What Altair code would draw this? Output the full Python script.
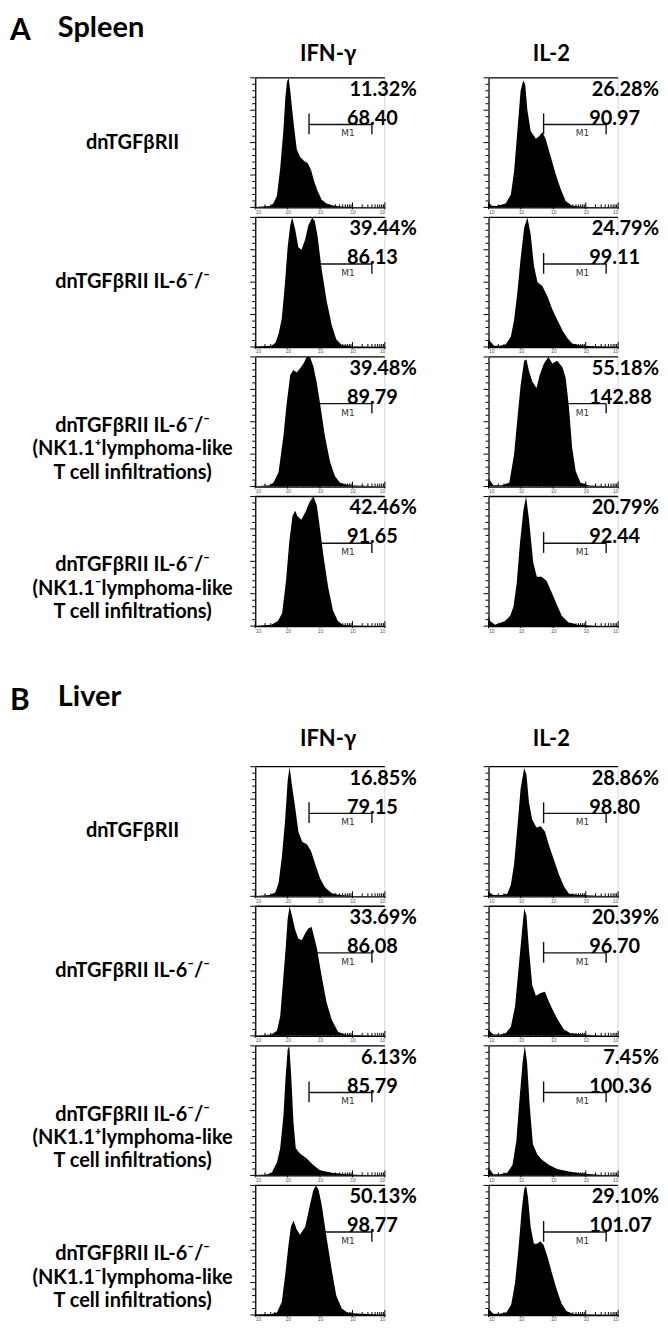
import math
import altair as alt
import pandas as pd

# ---------------- data ----------------
markers = ["IFN-γ", "IL-2"]
section_letters = ["A", "B"]
section_names = ["Spleen", "Liver"]
row_labels = [
    ["dnTGFβRII"],
    ["dnTGFβRII IL-6⁻/⁻"],
    ["dnTGFβRII IL-6⁻/⁻", "(NK1.1⁺lymphoma-like", "T cell infiltrations)"],
    ["dnTGFβRII IL-6⁻/⁻", "(NK1.1⁻lymphoma-like", "T cell infiltrations)"],
]

spleen_ifn_pct = [11.32, 39.44, 39.48, 42.46]
spleen_ifn_mean = [68.40, 86.13, 89.79, 91.65]
spleen_il2_pct = [26.28, 24.79, 55.18, 20.79]
spleen_il2_mean = [90.97, 99.11, 142.88, 92.44]
liver_ifn_pct = [16.85, 33.69, 6.13, 50.13]
liver_ifn_mean = [79.15, 86.08, 85.79, 98.77]
liver_il2_pct = [28.86, 20.39, 7.45, 29.10]
liver_il2_mean = [98.80, 96.70, 100.36, 101.07]

gate_ifn = [1.66, 3.60]
gate_il2 = [1.70, 3.63]
gate_level = 0.64

# histogram outlines: x in log decades (10^0..10^4), y relative count
a_ifn1_x = [0, 0.45, 0.56, 0.67, 0.77, 0.87, 0.93, 0.98, 1.03, 1.08, 1.18, 1.28, 1.38, 1.5, 1.62, 1.72, 1.82, 1.92, 2.05, 2.2, 2.4, 2.7, 3.2, 4]
a_ifn1_y = [0.004, 0.01, 0.03, 0.09, 0.3, 0.6, 0.85, 0.97, 1.0, 0.9, 0.66, 0.45, 0.39, 0.36, 0.34, 0.29, 0.2, 0.13, 0.06, 0.03, 0.015, 0.006, 0.002, 0]
a_ifn2_x = [0, 0.5, 0.62, 0.72, 0.82, 0.92, 1.0, 1.08, 1.14, 1.23, 1.33, 1.43, 1.54, 1.64, 1.76, 1.84, 1.92, 2.05, 2.2, 2.36, 2.5, 2.67, 3.0, 4]
a_ifn2_y = [0.003, 0.01, 0.03, 0.1, 0.22, 0.5, 0.77, 0.94, 1.0, 0.91, 0.77, 0.75, 0.83, 0.94, 1.0, 0.97, 0.86, 0.6, 0.36, 0.17, 0.06, 0.015, 0.004, 0]
a_ifn3_x = [0, 0.45, 0.56, 0.72, 0.87, 0.97, 1.08, 1.18, 1.28, 1.38, 1.49, 1.59, 1.69, 1.79, 1.9, 2.0, 2.15, 2.31, 2.46, 2.62, 2.87, 4]
a_ifn3_y = [0.003, 0.01, 0.03, 0.11, 0.39, 0.64, 0.86, 0.9, 0.88, 0.91, 0.95, 1.0, 1.0, 0.93, 0.8, 0.64, 0.39, 0.19, 0.08, 0.03, 0.01, 0]
a_ifn4_x = [0, 0.5, 0.7, 0.83, 0.95, 1.05, 1.15, 1.23, 1.3, 1.42, 1.55, 1.68, 1.8, 1.9, 2.0, 2.1, 2.25, 2.4, 2.55, 2.7, 3.0, 4]
a_ifn4_y = [0.003, 0.01, 0.04, 0.1, 0.35, 0.65, 0.85, 0.89, 0.85, 0.82, 0.88, 0.96, 1.0, 0.93, 0.75, 0.55, 0.3, 0.12, 0.04, 0.01, 0.004, 0]

a_il21_x = [0, 0.03, 0.1, 0.25, 0.53, 0.69, 0.79, 0.89, 0.99, 1.07, 1.13, 1.2, 1.3, 1.46, 1.56, 1.66, 1.76, 1.92, 2.07, 2.23, 2.38, 2.58, 2.9, 3.5, 4]
a_il21_y = [0.04, 0.03, 0.012, 0.01, 0.03, 0.1, 0.28, 0.59, 0.9, 0.98, 0.95, 0.75, 0.59, 0.53, 0.55, 0.58, 0.53, 0.39, 0.26, 0.14, 0.05, 0.013, 0.005, 0.002, 0]
a_il22_x = [0, 0.03, 0.17, 0.35, 0.53, 0.69, 0.79, 0.89, 0.99, 1.1, 1.2, 1.3, 1.4, 1.51, 1.66, 1.82, 1.97, 2.12, 2.28, 2.43, 2.58, 2.9, 3.5, 4]
a_il22_y = [0.07, 0.05, 0.01, 0.01, 0.02, 0.08, 0.21, 0.42, 0.68, 0.92, 1.0, 0.87, 0.63, 0.5, 0.47, 0.39, 0.29, 0.21, 0.13, 0.07, 0.026, 0.01, 0.003, 0]
a_il23_x = [0, 0.03, 0.15, 0.4, 0.64, 0.79, 0.89, 0.99, 1.1, 1.17, 1.25, 1.35, 1.48, 1.58, 1.71, 1.85, 1.97, 2.12, 2.28, 2.38, 2.48, 2.58, 2.69, 2.84, 3.1, 4]
a_il23_y = [0.07, 0.05, 0.01, 0.01, 0.03, 0.25, 0.52, 0.78, 0.97, 0.98, 0.89, 0.81, 0.76, 0.86, 0.95, 1.0, 0.95, 0.97, 0.92, 0.84, 0.62, 0.3, 0.12, 0.03, 0.008, 0]
a_il24_x = [0, 0.05, 0.2, 0.51, 0.67, 0.77, 0.87, 0.97, 1.08, 1.16, 1.25, 1.38, 1.49, 1.64, 1.79, 1.95, 2.1, 2.26, 2.46, 2.75, 3.3, 4]
a_il24_y = [0.08, 0.04, 0.01, 0.04, 0.08, 0.15, 0.33, 0.64, 0.9, 1.0, 0.82, 0.49, 0.38, 0.38, 0.35, 0.26, 0.17, 0.08, 0.03, 0.01, 0.003, 0]

b_ifn1_x = [0, 0.45, 0.62, 0.72, 0.82, 0.92, 1.0, 1.06, 1.13, 1.23, 1.33, 1.45, 1.6, 1.72, 1.85, 2.0, 2.15, 2.35, 2.6, 3.0, 4]
b_ifn1_y = [0.003, 0.01, 0.03, 0.1, 0.3, 0.58, 0.89, 1.0, 0.86, 0.69, 0.5, 0.42, 0.4, 0.35, 0.25, 0.14, 0.07, 0.025, 0.01, 0.003, 0]
b_ifn2_x = [0, 0.5, 0.67, 0.77, 0.87, 0.94, 1.0, 1.06, 1.13, 1.23, 1.33, 1.44, 1.54, 1.64, 1.74, 1.9, 2.05, 2.2, 2.36, 2.56, 2.8, 4]
b_ifn2_y = [0.003, 0.01, 0.04, 0.15, 0.46, 0.68, 0.9, 1.0, 0.93, 0.82, 0.75, 0.74, 0.79, 0.83, 0.84, 0.68, 0.46, 0.26, 0.125, 0.03, 0.008, 0]
b_ifn3_x = [0, 0.35, 0.51, 0.67, 0.77, 0.87, 0.94, 1.0, 1.05, 1.11, 1.18, 1.25, 1.38, 1.59, 1.79, 2.0, 2.36, 2.8, 3.3, 4]
b_ifn3_y = [0.003, 0.008, 0.02, 0.1, 0.21, 0.46, 0.77, 0.97, 1.0, 0.77, 0.41, 0.21, 0.17, 0.13, 0.08, 0.04, 0.02, 0.01, 0.004, 0]
b_ifn4_x = [0, 0.5, 0.67, 0.82, 0.92, 1.03, 1.1, 1.18, 1.28, 1.38, 1.54, 1.69, 1.79, 1.87, 1.95, 2.05, 2.2, 2.36, 2.5, 2.67, 2.87, 4]
b_ifn4_y = [0.003, 0.008, 0.02, 0.1, 0.3, 0.55, 0.68, 0.73, 0.66, 0.62, 0.68, 0.85, 0.96, 1.0, 0.97, 0.85, 0.6, 0.35, 0.15, 0.05, 0.015, 0]

b_il21_x = [0, 0.03, 0.15, 0.4, 0.58, 0.69, 0.79, 0.89, 0.99, 1.1, 1.17, 1.25, 1.35, 1.48, 1.61, 1.74, 1.87, 2.02, 2.17, 2.33, 2.48, 2.8, 3.6, 4]
b_il21_y = [0.04, 0.03, 0.01, 0.01, 0.02, 0.09, 0.25, 0.53, 0.83, 0.99, 0.94, 0.72, 0.59, 0.53, 0.54, 0.5, 0.39, 0.28, 0.17, 0.075, 0.02, 0.01, 0.003, 0]
b_il22_x = [0, 0.03, 0.15, 0.35, 0.53, 0.69, 0.82, 0.92, 1.03, 1.1, 1.17, 1.25, 1.35, 1.46, 1.61, 1.74, 1.87, 2.02, 2.17, 2.33, 2.53, 2.9, 3.5, 4]
b_il22_y = [0.05, 0.04, 0.01, 0.01, 0.02, 0.07, 0.23, 0.5, 0.8, 0.98, 0.93, 0.66, 0.39, 0.31, 0.33, 0.34, 0.26, 0.18, 0.11, 0.05, 0.02, 0.01, 0.003, 0]
b_il23_x = [0, 0.03, 0.15, 0.35, 0.58, 0.74, 0.86, 0.96, 1.05, 1.12, 1.19, 1.27, 1.37, 1.51, 1.66, 1.87, 2.12, 2.48, 2.89, 3.5, 4]
b_il23_y = [0.07, 0.05, 0.01, 0.01, 0.02, 0.08, 0.27, 0.6, 0.87, 1.0, 0.87, 0.54, 0.24, 0.16, 0.12, 0.08, 0.05, 0.03, 0.015, 0.004, 0]
b_il24_x = [0, 0.03, 0.15, 0.35, 0.55, 0.7, 0.82, 0.92, 1.02, 1.1, 1.16, 1.22, 1.3, 1.4, 1.5, 1.6, 1.7, 1.82, 1.95, 2.1, 2.25, 2.4, 2.6, 3.0, 4]
b_il24_y = [0.05, 0.04, 0.01, 0.01, 0.02, 0.08, 0.25, 0.5, 0.8, 0.97, 1.0, 0.9, 0.68, 0.55, 0.55, 0.57, 0.54, 0.45, 0.33, 0.2, 0.09, 0.03, 0.01, 0.003, 0]

decade_ticks = [0, 1, 2, 3, 4]
minor_ticks = [round(d + math.log10(k), 4) for d in range(4) for k in range(2, 10)]
y_major_ticks = [0, 0.25, 0.5, 0.75, 1.0]
y_minor_ticks = [i / 20 for i in range(21) if i % 5]

# ---------------- styling / layout ----------------
FONT = "Lato, DejaVu Sans, sans-serif"
W = H = 130
LABEL_W = 143          # label column; column spacing GAP brings the IFN panel to x=247
GAP = 104
XS = alt.Scale(domain=[0, 4], nice=False, zero=False)
YS = alt.Scale(domain=[0, 1], nice=False, zero=False)
XAX = alt.Axis(values=decade_ticks, ticks=False, grid=False, title=None,
               domainColor="black", domainWidth=1.3, labelFontSize=5,
               labelColor="#555", labelPadding=2, labelExpr="'10'")
YAX = alt.Axis(values=[0, 1], ticks=False, labels=False, grid=False, title=None,
               domainColor="black", domainWidth=1.3)


def X(f="x"):
    return alt.X(f"{f}:Q", scale=XS, axis=XAX)


def Y(f="y"):
    return alt.Y(f"{f}:Q", scale=YS, axis=YAX)


def panel(hx, hy, pct, mean, gate, pct_right, mean_left):
    hist = alt.Chart(pd.DataFrame({"x": hx, "y": hy})).mark_area(
        color="black", interpolate="linear").encode(x=X(), y=Y())
    bmaj = alt.Chart(pd.DataFrame({"x": decade_ticks})).mark_rule(
        color="black", strokeWidth=1).encode(x=X(), y=alt.value(H + 2), y2=alt.value(H - 5))
    bmin = alt.Chart(pd.DataFrame({"x": minor_ticks})).mark_rule(
        color="black", strokeWidth=1).encode(x=X(), y=alt.value(H), y2=alt.value(H - 3))
    lmaj = alt.Chart(pd.DataFrame({"y": y_major_ticks})).mark_rule(
        color="black", strokeWidth=1).encode(y=Y(), x=alt.value(-5), x2=alt.value(0))
    lmin = alt.Chart(pd.DataFrame({"y": y_minor_ticks})).mark_rule(
        color="black", strokeWidth=1).encode(y=Y(), x=alt.value(-3), x2=alt.value(0))
    top = alt.Chart(pd.DataFrame({"d": [0]})).mark_rule(
        color="black", strokeWidth=1.3).encode(x=alt.value(0), x2=alt.value(W), y=alt.value(0))
    right = alt.Chart(pd.DataFrame({"d": [0]})).mark_rule(
        color="#d6d6d6", strokeWidth=1).encode(x=alt.value(W), y=alt.value(0), y2=alt.value(H))
    gdf = pd.DataFrame({"x": [gate[0]], "x2": [gate[1]], "y": [gate_level]})
    gline = alt.Chart(gdf).mark_rule(color="#111", strokeWidth=1.4).encode(
        x=X(), x2=alt.X2("x2:Q"), y=Y())
    gl = alt.Chart(pd.DataFrame({"x": [gate[0]], "y": [gate_level + 0.085], "y2": [gate_level - 0.075]})
                   ).mark_rule(color="#111", strokeWidth=1.4).encode(x=X(), y=Y(), y2=alt.Y2("y2:Q"))
    gr = alt.Chart(pd.DataFrame({"x": [gate[1]], "y": [gate_level], "y2": [gate_level - 0.075]})
                   ).mark_rule(color="#111", strokeWidth=1.4).encode(x=X(), y=Y(), y2=alt.Y2("y2:Q"))
    m1 = alt.Chart(pd.DataFrame({"x": [gate[0] + 0.62 * (gate[1] - gate[0])], "y": [gate_level], "t": ["M1"]})
                   ).mark_text(font="DejaVu Sans", fontSize=9, color="#333", dy=12,
                               baseline="alphabetic").encode(x=X(), y=Y(), text="t:N")
    ptxt = alt.Chart(pd.DataFrame({"t": [f"{pct:.2f}%"]})).mark_text(
        font=FONT, fontWeight="bold", fontSize=20, align="right", baseline="alphabetic",
        color="black").encode(x=alt.value(pct_right), y=alt.value(18), text="t:N")
    mtxt = alt.Chart(pd.DataFrame({"t": [f"{mean:.2f}"]})).mark_text(
        font=FONT, fontWeight="bold", fontSize=20, align="left", baseline="alphabetic",
        color="black").encode(x=alt.value(mean_left), y=alt.value(47), text="t:N")
    return alt.layer(right, gline, gl, gr, m1, hist, bmaj, bmin, lmaj, lmin, top, ptxt, mtxt
                     ).properties(width=W, height=H)


def txt(s, x, y, size, align="left"):
    return alt.Chart(pd.DataFrame({"t": [s]})).mark_text(
        font=FONT, fontWeight="bold", fontSize=size, align=align, baseline="alphabetic",
        color="black").encode(text="t:N", x=alt.value(x), y=alt.value(y))


def label_chart(lines):
    off = 0 if len(lines) == 1 else 4
    return alt.Chart(pd.DataFrame({"t": ["\n".join(lines)]})).mark_text(
        font=FONT, fontWeight="bold", fontSize=20, lineHeight=23.5, lineBreak="\n",
        align="center", baseline="middle", color="black"
    ).encode(text="t:N", x=alt.value(124), y=alt.value(H / 2 + off)).properties(width=LABEL_W, height=H)


sections = [
    dict(letter=section_letters[0], name=section_names[0], h=57, yl=29, yn=26, yh=50,
         ifn=[(a_ifn1_x, a_ifn1_y), (a_ifn2_x, a_ifn2_y), (a_ifn3_x, a_ifn3_y), (a_ifn4_x, a_ifn4_y)],
         il2=[(a_il21_x, a_il21_y), (a_il22_x, a_il22_y), (a_il23_x, a_il23_y), (a_il24_x, a_il24_y)],
         ifn_pct=spleen_ifn_pct, ifn_mean=spleen_ifn_mean,
         il2_pct=spleen_il2_pct, il2_mean=spleen_il2_mean),
    dict(letter=section_letters[1], name=section_names[1], h=121, yl=74, yn=70, yh=110,
         ifn=[(b_ifn1_x, b_ifn1_y), (b_ifn2_x, b_ifn2_y), (b_ifn3_x, b_ifn3_y), (b_ifn4_x, b_ifn4_y)],
         il2=[(b_il21_x, b_il21_y), (b_il22_x, b_il22_y), (b_il23_x, b_il23_y), (b_il24_x, b_il24_y)],
         ifn_pct=liver_ifn_pct, ifn_mean=liver_ifn_mean,
         il2_pct=liver_il2_pct, il2_mean=liver_il2_mean),
]

cells = []
for s in sections:
    cells.append(alt.layer(txt(s["letter"], 1, s["yl"], 30), txt(s["name"], 49, s["yn"], 29)
                           ).properties(width=LABEL_W, height=s["h"]))
    cells.append(txt(markers[0], W / 2 + 8, s["yh"], 22, "center").properties(width=W, height=s["h"]))
    cells.append(txt(markers[1], W / 2 - 2, s["yh"], 22, "center").properties(width=W, height=s["h"]))
    for i in range(4):
        cells.append(label_chart(row_labels[i]))
        cells.append(panel(*s["ifn"][i], s["ifn_pct"][i], s["ifn_mean"][i], gate_ifn, 162, 92))
        cells.append(panel(*s["il2"][i], s["il2_pct"][i], s["il2_mean"][i], gate_il2, 171, 101))

chart = alt.concat(*cells, columns=3, spacing={"row": 10, "column": GAP}, align="each",
                   bounds="flush", padding=0).configure_view(stroke="transparent")

chart.save("out.html", embed_options={"renderer": "svg", "actions": False})
